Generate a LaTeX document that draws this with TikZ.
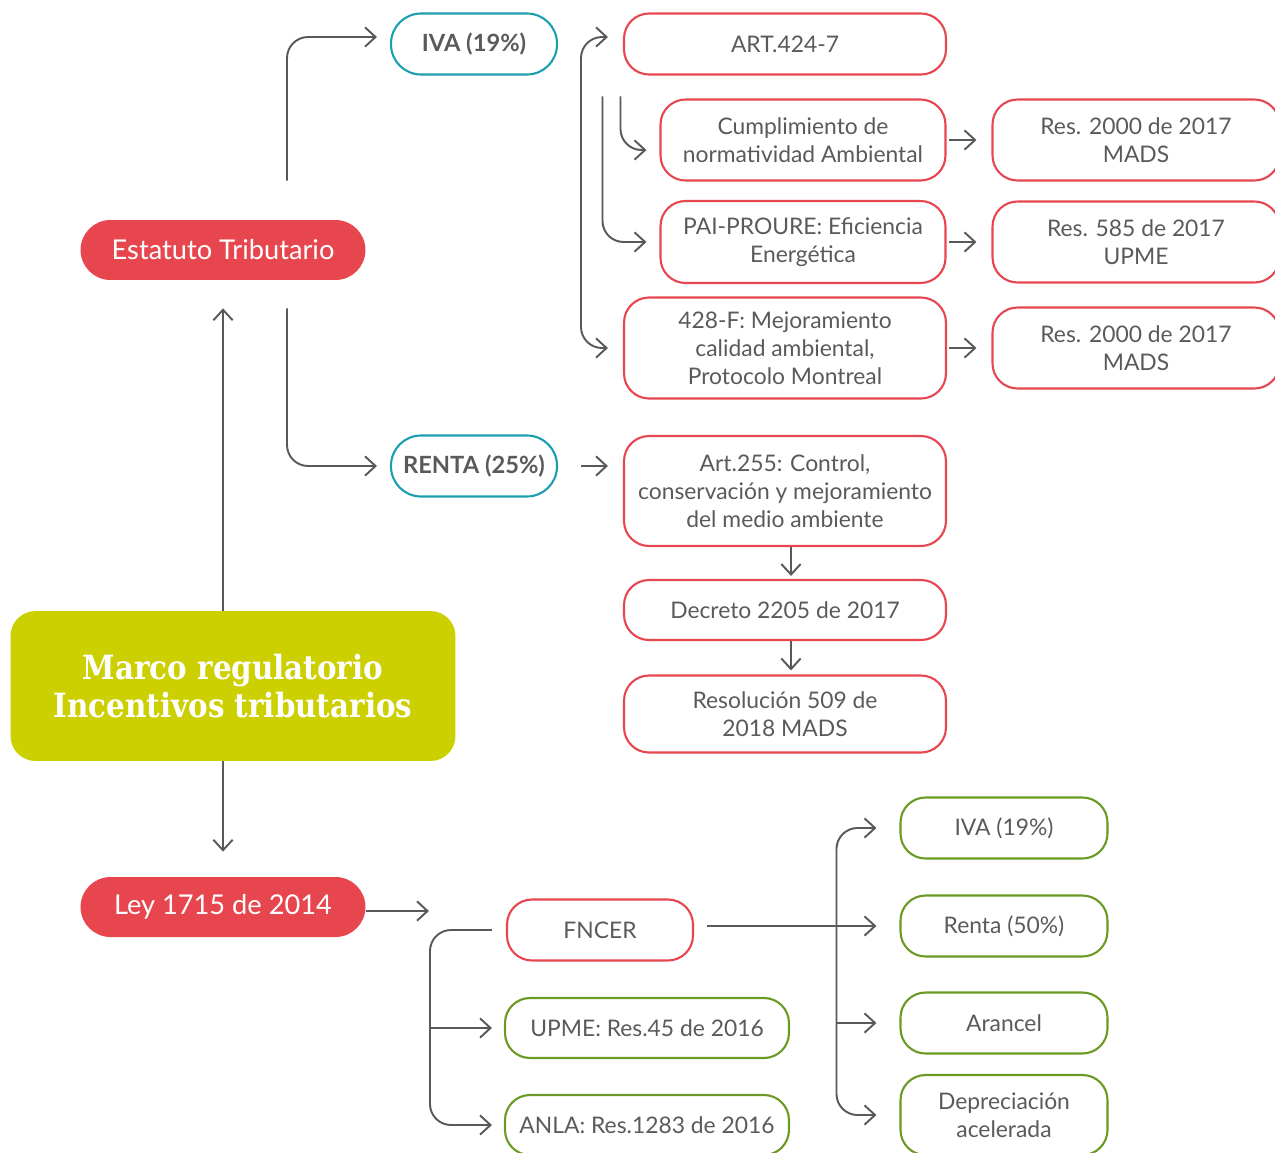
\documentclass[tikz,border=0pt]{standalone}
\usepackage{fontspec}
\setmainfont{Lato}
\newfontfamily\titlefont{DejaVu Serif}[FakeStretch=0.88]
\usetikzlibrary{arrows.meta}
\definecolor{mredd}{HTML}{E8464F}
\definecolor{mteal}{HTML}{1A9FAF}
\definecolor{mgreen}{HTML}{6B9A24}
\definecolor{myellow}{HTML}{CCCF00}
\definecolor{mline}{HTML}{58595B}
\definecolor{mtext}{HTML}{5A5A5A}
\begin{document}
\begin{tikzpicture}[x=0.02cm, y=-0.02cm,
      every node/.style={font=\fontsize{13}{16}\selectfont, text=mtext, align=center, inner sep=0pt},
      box/.style={rectangle, draw, line width=1.2pt, rounded corners=0.5cm, minimum height=1.22cm},
      redbox/.style={box, draw=mredd, minimum width=6.44cm},
      smallred/.style={redbox, minimum width=5.7cm},
      resbox/.style={redbox, minimum width=5.74cm, minimum height=1.62cm},
      greenbox/.style={box, draw=mgreen, minimum width=4.14cm},
      lawbox/.style={box, draw=mgreen, minimum width=5.68cm, minimum height=1.2cm},
      tax/.style={box, draw=mteal, rounded corners=0.6cm, minimum width=3.32cm, font=\fontsize{13.5}{16}\selectfont\bfseries},
      pill/.style={rectangle, fill=mredd, rounded corners=0.6cm, minimum width=5.7cm, minimum height=1.2cm, text=white, font=\fontsize{15.5}{18}\selectfont},
      title/.style={rectangle, fill=myellow, rounded corners=0.5cm, minimum width=8.9cm, minimum height=3cm, text=white, font=\titlefont\bfseries\fontsize{19}{22}\selectfont},
      arr/.style={draw=mline, line width=1.1pt, rounded corners=12pt, -{Straight Barb[length=6pt,width=11pt]}},
      arrboth/.style={arr, {Straight Barb[length=6pt,width=11pt]}-{Straight Barb[length=6pt,width=11pt]}}
  ]
    \useasboundingbox (0,0) rectangle (1275,1153);
    \clip (0,0) rectangle (1275,1153);

    \node[title] (marco) at (233,686) {Marco regulatorio\\Incentivos tributarios};
    \node[pill] (estatuto) at (223,250) {Estatuto Tributario};
    \node[pill] (ley) at (223,907) {Ley 1715 de 2014};

    \node[tax] (iva) at (474,44) {IVA (19\%)};
    \node[tax] (renta) at (474,466) {RENTA (25\%)};

    \node[redbox] (art424) at (785,44) {ART.424-7};
    \node[smallred, minimum height=1.62cm] (cumpl) at (803,140) {Cumplimiento de\\normatividad Ambiental};
    \node[smallred, minimum height=1.64cm] (pai) at (803,242) {PAI-PROURE: Eficiencia\\Energética};
    \node[redbox, minimum height=2.02cm] (mejora) at (785,348) {428-F: Mejoramiento\\calidad ambiental,\\Protocolo Montreal};
    \node[resbox] (resa) at (1136,140) {Res. 2000 de 2017\\MADS};
    \node[resbox] (resb) at (1136,242) {Res. 585 de 2017\\UPME};
    \node[resbox] (resc) at (1136,348) {Res. 2000 de 2017\\MADS};

    \node[redbox, minimum height=2.2cm] (art255) at (785,491) {Art.255: Control,\\conservación y mejoramiento\\del medio ambiente};
    \node[redbox, minimum height=1.2cm] (decreto) at (785,610) {Decreto 2205 de 2017};
    \node[redbox, minimum height=1.54cm] (resol) at (785,714) {Resolución 509 de\\2018 MADS};

    \node[box, draw=mredd, minimum width=3.72cm] (fncer) at (600,930) {FNCER};
    \node[lawbox] (upme) at (647,1028) {UPME: Res.45 de 2016};
    \node[lawbox] (anla) at (647,1125) {ANLA: Res.1283 de 2016};

    \node[greenbox] (giva) at (1004,828) {IVA (19\%)};
    \node[greenbox] (grenta) at (1004,926) {Renta (50\%)};
    \node[greenbox] (arancel) at (1004,1023) {Arancel};
    \node[greenbox, minimum height=1.6cm] (depre) at (1004,1115) {Depreciación\\acelerada};

    \draw[arr] (estatuto |- marco.north) -- ([yshift=-0.56cm]estatuto.south);
    \draw[arr] (estatuto |- marco.south) -- ([yshift=0.5cm]ley.north);
    \draw[arr] ([xshift=1.28cm,yshift=0.78cm]estatuto.north) |- ([xshift=-0.26cm,yshift=0.14cm]iva.west);
    \draw[arr] ([xshift=1.28cm,yshift=-0.56cm]estatuto.south) |- ([xshift=-0.26cm]renta.west);
    \draw[arr] ([xshift=0.46cm]renta.east) -- ([xshift=-0.3cm]art255.west |- renta.east);

    \draw[arrboth] ([xshift=-0.3cm,yshift=0.14cm]art424.west) -- ++(-27,0) |- ([xshift=-0.3cm]mejora.west);
    \draw[arr] ([xshift=-0.78cm,yshift=0.04cm]cumpl.north west) |- ([xshift=-0.26cm,yshift=-0.2cm]cumpl.west);
    \draw[arr] ([xshift=-1.14cm,yshift=0.04cm]cumpl.north west) |- ([xshift=-0.26cm]pai.west);
    \draw[arr] ([xshift=0.04cm]cumpl.east) -- ([xshift=-0.3cm]resa.west);
    \draw[arr] ([xshift=0.04cm]pai.east) -- ([xshift=-0.3cm]resb.west);
    \draw[arr] ([xshift=0.04cm]mejora.east) -- ([xshift=-0.3cm]resc.west);

    \draw[arr] ([xshift=0.12cm]art255.south) -- ([xshift=0.12cm,yshift=0.06cm]decreto.north);
    \draw[arr] ([xshift=0.12cm]decreto.south) -- ([xshift=0.12cm,yshift=0.08cm]resol.north);

    \draw[arr] ([yshift=-0.08cm]ley.east) -- ([xshift=-1.54cm,yshift=-0.08cm]fncer.west |- ley.east);
    \draw[arr] ([xshift=-0.28cm]fncer.west) -- ++(-62,0) |- ([xshift=-0.24cm]anla.west);
    \draw[arr] ([xshift=-1.52cm]fncer.west |- upme.west) -- ([xshift=-0.24cm]upme.west);

    \draw[arr] ([xshift=0.26cm,yshift=0.08cm]fncer.east) -- ([xshift=-0.46cm,yshift=0.08cm]grenta.west |- fncer.east);
    \draw[arrboth] ([xshift=-0.46cm]giva.west) -- ++(-40,0) |- ([xshift=-0.46cm]depre.west);
    \draw[arr] ([xshift=-1.26cm]arancel.west) -- ([xshift=-0.46cm]arancel.west);
  \end{tikzpicture}
\end{document}
